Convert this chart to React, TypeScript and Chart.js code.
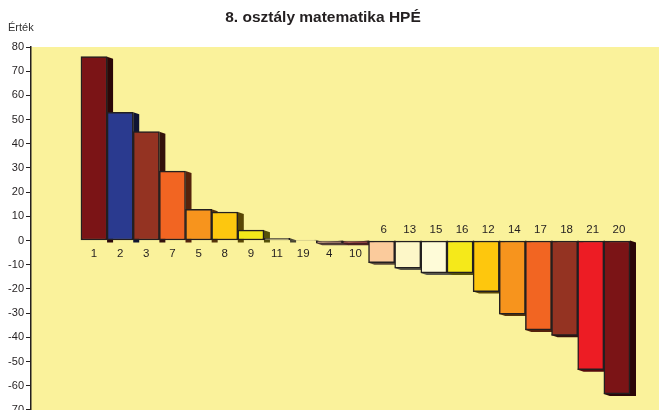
import React, { useEffect, useRef } from "react";
import { Chart, registerables } from "chart.js";

Chart.register(...registerables);

const categories = ["1", "2", "3", "7", "5", "8", "9", "11", "19", "4", "10", "6", "13", "15", "16", "12", "14", "17", "18", "21", "20"];
const values = [76, 53, 45, 28.7, 12.9, 11.8, 4.3, 0.9, 0.2, -1.1, -1.1, -9.2, -11.4, -13.4, -13.4, -21.1, -30.4, -37, -39.2, -53.4, -63.4];
const barColors = [
  "#7b1416", "#2a3a8f", "#943322", "#f26522", "#f7941d", "#fdc70f", "#f2e81a", "#c4bc8a", "#d8d2a4", "#f6b8a0", "#e06262",
  "#fbcb9c", "#fdf7c8", "#fefbd8", "#f5e91a", "#fec70d", "#f7941d", "#f26522", "#943322", "#ed1c24", "#7b1416",
];
const yTicks = [80, 70, 60, 50, 40, 30, 20, 10, 0, -10, -20, -30, -40, -50, -60, -70];
const titleText = "8. osztály matematika HPÉ";
const yAxisTitle = "Érték";

function darken(hex: string, f: number) {
  const n = parseInt(hex.slice(1), 16);
  const r = Math.round(((n >> 16) & 255) * f);
  const g = Math.round(((n >> 8) & 255) * f);
  const b = Math.round((n & 255) * f);
  return `rgb(${r},${g},${b})`;
}

const DX = 6;
const DY = 2;

const bgPlugin = {
  id: "bgPlugin",
  beforeDraw(chart: any) {
    const { ctx, chartArea } = chart;
    ctx.save();
    ctx.fillStyle = "#faf29b";
    ctx.fillRect(chartArea.left, chartArea.top, chartArea.right - chartArea.left, chartArea.bottom - chartArea.top);
    ctx.restore();
  },
  beforeDatasetsDraw(chart: any) {
    const { ctx } = chart;
    const meta = chart.getDatasetMeta(0);
    const yScale = chart.scales.y;
    const zero = yScale.getPixelForValue(0);
    ctx.save();
    meta.data.forEach((bar: any, i: number) => {
      const half = bar.width / 2;
      const left = bar.x - half;
      const right = bar.x + half;
      const v = values[i];
      ctx.fillStyle = darken(barColors[i], 0.35);
      ctx.beginPath();
      if (v >= 0) {
        ctx.moveTo(right, bar.y);
        ctx.lineTo(right + DX, bar.y + DY);
        ctx.lineTo(right + DX, zero + DY);
        ctx.lineTo(right, zero + DY);
      } else {
        ctx.moveTo(right, zero);
        ctx.lineTo(right + DX, zero + DY);
        ctx.lineTo(right + DX, bar.y + DY);
        ctx.lineTo(left + DX, bar.y + DY);
        ctx.lineTo(left, bar.y);
      }
      ctx.closePath();
      ctx.fill();
    });
    ctx.restore();
  },
  afterDatasetsDraw(chart: any) {
    const { ctx } = chart;
    const meta = chart.getDatasetMeta(0);
    const yScale = chart.scales.y;
    const zero = yScale.getPixelForValue(0);
    ctx.save();
    ctx.font = "11.5px 'Liberation Sans', Arial, sans-serif";
    ctx.fillStyle = "#231f20";
    ctx.textAlign = "center";
    ctx.textBaseline = "middle";
    meta.data.forEach((bar: any, i: number) => {
      const v = values[i];
      const y = v < -5 ? zero - 11 : zero + 13;
      ctx.fillText(categories[i], bar.x + (v < -5 ? 2 : 0), y);
    });
    ctx.font = "bold 15.5px 'Liberation Sans', Arial, sans-serif";
    ctx.fillText(titleText, 323, 18);
    ctx.font = "11px 'Liberation Sans', Arial, sans-serif";
    ctx.textAlign = "left";
    ctx.fillStyle = "#333333";
    ctx.fillText(yAxisTitle, 8, 28);
    ctx.restore();
  },
};

export default function App() {
  const ref = useRef<HTMLCanvasElement | null>(null);
  useEffect(() => {
    if (!ref.current) return;
    const chart = new Chart(ref.current, {
      type: "bar",
      data: {
        datasets: [
          {
            data: values.map((v, i) => ({ x: i, y: v })),
            backgroundColor: barColors,
            borderColor: "#231f20",
            borderWidth: 1.5,
            borderSkipped: false,
            barPercentage: 1,
            categoryPercentage: 1,
          },
        ],
      },
      options: {
        animation: false,
        responsive: false,
        devicePixelRatio: 1,
        layout: { padding: { top: 47, left: 0, right: 0, bottom: 0 } },
        plugins: { legend: { display: false }, tooltip: { enabled: false }, title: { display: false } },
        scales: {
          x: { type: "linear", display: false, min: -2.41, max: 21.61, offset: false },
          y: {
            min: -78.9,
            max: 80,
            afterBuildTicks(scale: any) {
              scale.ticks = yTicks.map((v) => ({ value: v }));
            },
            afterFit(scale: any) {
              scale.width = 31;
            },
            grid: { drawOnChartArea: false, drawTicks: true, tickLength: 5, color: "#231f20", lineWidth: 1 },
            border: { display: true, color: "#231f20", width: 1.5 },
            ticks: {
              padding: 2,
              color: "#231f20",
              font: { family: "'Liberation Sans', Arial, sans-serif", size: 11 },
            },
          },
        },
      },
      plugins: [bgPlugin],
    } as any);
    return () => chart.destroy();
  }, []);
  return (
    <div style={{ position: "fixed", left: 0, top: 0, width: 659, height: 410, overflow: "hidden", background: "#fff" }}>
      <canvas ref={ref} width={659} height={440} style={{ width: 659, height: 440, display: "block" }} />
    </div>
  );
}
